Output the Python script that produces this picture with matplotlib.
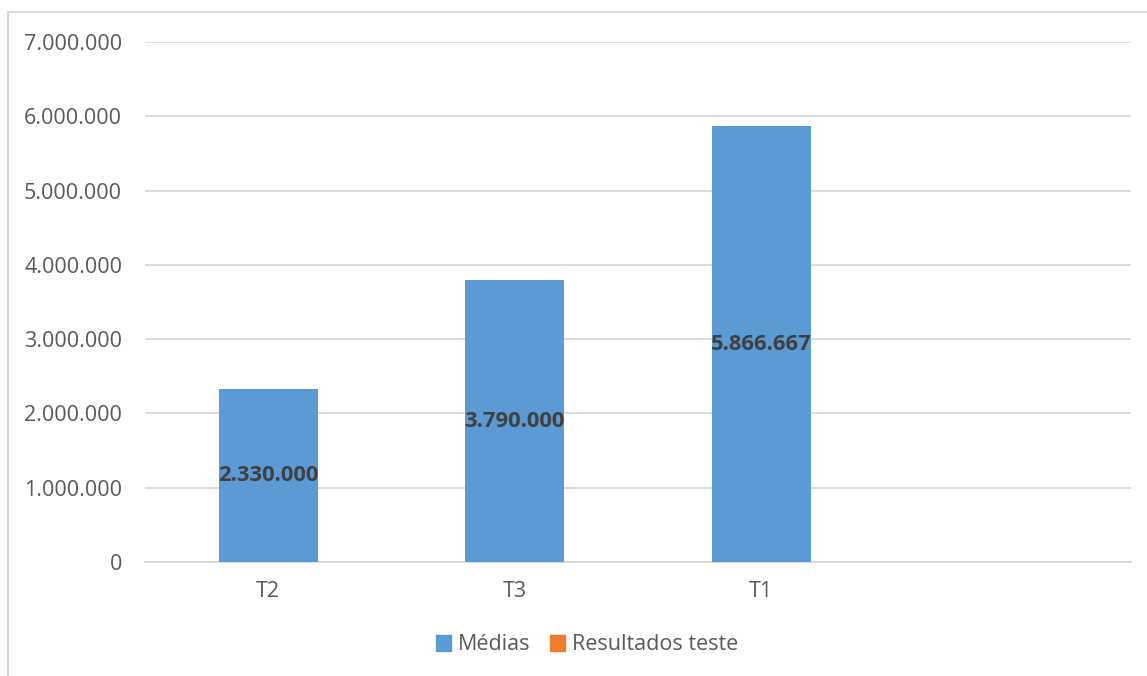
import matplotlib
matplotlib.use("Agg")
import matplotlib.pyplot as plt
from matplotlib.patches import Rectangle, Patch
from matplotlib.ticker import FuncFormatter

categories = ["T2", "T3", "T1", ""]
medias = [2330000, 3790000, 5866667, None]
resultados = [None, None, None, None]
series_names = ["Médias", "Resultados teste"]
colors = ["#5B9BD5", "#ED7D31"]

plt.rcParams['font.family'] = ['Open Sans', 'DejaVu Sans']

W, H = 1147, 676
fig = plt.figure(figsize=(W / 100, H / 100), dpi=100)
ax = fig.add_axes([145 / W, 1 - 562 / H, (1131 - 145) / W, (562 - 42) / H])

# outer chart border
fig.patches.append(Rectangle((8 / W, -0.05), 1.2, 1 - 12 / H + 0.05,
                             transform=fig.transFigure, fill=False,
                             edgecolor="#D9D9D9", linewidth=1.5))

xs = list(range(len(categories)))
bx = [x for x, v in zip(xs, medias) if v is not None]
bv = [v for v in medias if v is not None]
bars = ax.bar(bx, bv, width=0.4, color=colors[0], zorder=3)

def fmt(v):
    return f"{int(round(v)):,}".replace(",", ".")

for x, v in zip(bx, bv):
    ax.text(x, v / 2, fmt(v), ha="center", va="center", fontsize=15.8,
            fontweight="bold", color="#404040", zorder=4)

ax.set_xlim(-0.5, len(categories) - 0.5)
ax.set_ylim(0, 7000000)
ax.set_yticks(range(0, 7000001, 1000000))
ax.yaxis.set_major_formatter(FuncFormatter(lambda v, p: fmt(v)))
ax.set_xticks(xs)
ax.set_xticklabels(categories)
ax.grid(axis="y", color="#D9D9D9", linewidth=1.3, zorder=0)
for s in ["top", "right", "left"]:
    ax.spines[s].set_visible(False)
ax.spines["bottom"].set_color("#D9D9D9")
ax.spines["bottom"].set_linewidth(1.3)
ax.tick_params(axis="both", length=0, labelsize=15.5, labelcolor="#595959")
ax.tick_params(axis="y", pad=16.5)
ax.tick_params(axis="x", pad=14)

handles = [Patch(color=c, label=n) for c, n in zip(colors, series_names)]
fig.legend(handles=handles, loc="center", bbox_to_anchor=(587 / W, 1 - 645 / H),
           ncol=2, frameon=False, fontsize=15.5, labelcolor="#595959",
           handlelength=0.7, handleheight=0.7, handletextpad=0.3, columnspacing=0.95)

fig.savefig("out.png", dpi=100)
